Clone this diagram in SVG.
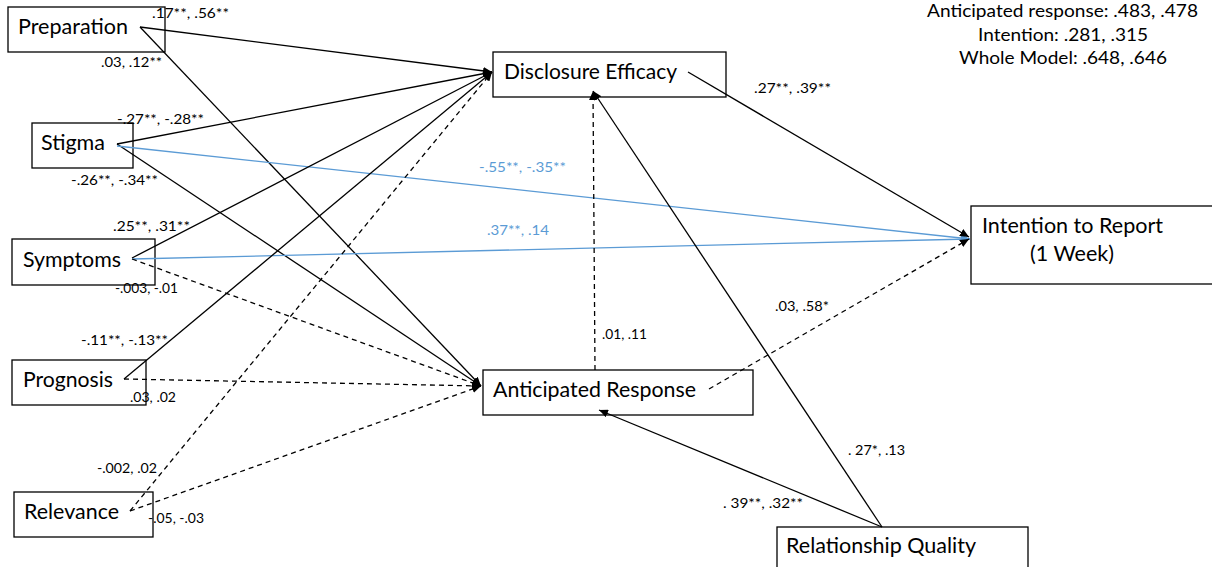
<svg xmlns="http://www.w3.org/2000/svg" width="1212" height="567" viewBox="0 0 1212 567">
<style>
.box{fill:#fff;stroke:#000;stroke-width:1.3}
.nt{font-family:Lato,"Liberation Sans",sans-serif;font-size:21px;fill:#000}
.lb{font-family:Lato,"Liberation Sans",sans-serif;font-size:14px;fill:#000}
.lbb{font-family:Lato,"Liberation Sans",sans-serif;font-size:14px;fill:#5B9BD5}
.st{font-family:Lato,"Liberation Sans",sans-serif;font-size:18px;fill:#000}
.ln{fill:none;stroke:#000;stroke-width:1.3}
.ds{fill:none;stroke:#000;stroke-width:1.3;stroke-dasharray:5 4}
.bl{fill:none;stroke:#5B9BD5;stroke-width:1.3}
</style>
<defs>
<marker id="ah" markerUnits="userSpaceOnUse" markerWidth="10" markerHeight="8" refX="9" refY="4" orient="auto">
<path d="M0,0 L9,4 L0,8 z" fill="#000"/>
</marker>
<marker id="ahb" markerUnits="userSpaceOnUse" markerWidth="10" markerHeight="8" refX="9" refY="4" orient="auto">
<path d="M0,0 L9,4 L0,8 z" fill="#5B9BD5"/>
</marker>
</defs>
<rect width="1212" height="567" fill="#fff"/>

<g id="nodes">
<g id="preparation"><rect class="box" x="8" y="7" width="157" height="45"/><text class="nt" x="18" y="34" textLength="110" lengthAdjust="spacingAndGlyphs">Preparation</text></g>
<g id="stigma"><rect class="box" x="32" y="123" width="101" height="45"/><text class="nt" x="41" y="150" textLength="64" lengthAdjust="spacingAndGlyphs">Stigma</text></g>
<g id="symptoms"><rect class="box" x="12" y="239" width="143" height="46"/><text class="nt" x="23" y="267" textLength="98" lengthAdjust="spacingAndGlyphs">Symptoms</text></g>
<g id="prognosis"><rect class="box" x="12" y="360" width="134" height="45"/><text class="nt" x="23" y="387" textLength="90" lengthAdjust="spacingAndGlyphs">Prognosis</text></g>
<g id="relevance"><rect class="box" x="14" y="492" width="139" height="45"/><text class="nt" x="24" y="519" textLength="95" lengthAdjust="spacingAndGlyphs">Relevance</text></g>
<g id="disclosure-efficacy"><rect class="box" x="493" y="52" width="233" height="45"/><text class="nt" x="504" y="79" textLength="173" lengthAdjust="spacingAndGlyphs">Disclosure Efficacy</text></g>
<g id="anticipated-response"><rect class="box" x="483" y="370" width="270" height="45"/><text class="nt" x="493" y="397" textLength="203" lengthAdjust="spacingAndGlyphs">Anticipated Response</text></g>
<g id="intention"><rect class="box" x="971" y="206" width="250" height="78"/><text class="nt" x="982" y="233" textLength="181" lengthAdjust="spacingAndGlyphs">Intention to Report</text><text class="nt" x="1030" y="261" textLength="84" lengthAdjust="spacingAndGlyphs">(1 Week)</text></g>
<g id="relationship-quality"><rect class="box" x="777" y="527" width="251" height="60"/><text class="nt" x="786" y="553" textLength="190" lengthAdjust="spacingAndGlyphs">Relationship Quality</text></g>
</g>

<g id="connectors">
<line class="ln" x1="140" y1="27" x2="492" y2="72" marker-end="url(#ah)"/>
<line class="ln" x1="140" y1="27" x2="481" y2="386" marker-end="url(#ah)"/>
<line class="ln" x1="117" y1="144" x2="492" y2="72" marker-end="url(#ah)"/>
<line class="ln" x1="117" y1="144" x2="481" y2="386" marker-end="url(#ah)"/>
<line class="bl" x1="117" y1="146" x2="970" y2="239" marker-end="url(#ahb)"/>
<line class="ln" x1="132" y1="258" x2="492" y2="72" marker-end="url(#ah)"/>
<line class="bl" x1="132" y1="259" x2="970" y2="239" marker-end="url(#ahb)"/>
<line class="ds" x1="132" y1="259" x2="481" y2="386" marker-end="url(#ah)"/>
<line class="ln" x1="124" y1="379" x2="492" y2="72" marker-end="url(#ah)"/>
<line class="ds" x1="124" y1="379" x2="481" y2="386" marker-end="url(#ah)"/>
<line class="ds" x1="130" y1="511" x2="492" y2="72" marker-end="url(#ah)"/>
<line class="ds" x1="130" y1="511" x2="481" y2="386" marker-end="url(#ah)"/>
<line class="ln" x1="688" y1="72" x2="969" y2="237" marker-end="url(#ah)"/>
<line class="ds" x1="595" y1="370" x2="593" y2="91" marker-end="url(#ah)"/>
<line class="ds" x1="709" y1="389" x2="969" y2="239" marker-end="url(#ah)"/>
<line class="ln" x1="882" y1="527" x2="593" y2="91" marker-end="url(#ah)"/>
<line class="ln" x1="882" y1="527" x2="599" y2="410" marker-end="url(#ah)"/>
</g>

<g id="labels">
<text class="lb" x="152" y="18" textLength="77" lengthAdjust="spacingAndGlyphs">.17**, .56**</text>
<text class="lb" x="101" y="67" textLength="61" lengthAdjust="spacingAndGlyphs">.03, .12**</text>
<text class="lb" x="117" y="124" textLength="87" lengthAdjust="spacingAndGlyphs">-.27**, -.28**</text>
<text class="lb" x="71" y="185" textLength="87" lengthAdjust="spacingAndGlyphs">-.26**, -.34**</text>
<text class="lb" x="113" y="231" textLength="77" lengthAdjust="spacingAndGlyphs">.25**, .31**</text>
<text class="lbb" x="479" y="172" textLength="87" lengthAdjust="spacingAndGlyphs">-.55**, -.35**</text>
<text class="lbb" x="487" y="235" textLength="62" lengthAdjust="spacingAndGlyphs">.37**, .14</text>
<text class="lb" x="115" y="293" textLength="63" lengthAdjust="spacingAndGlyphs">-.003, -.01</text>
<text class="lb" x="81" y="345" textLength="87" lengthAdjust="spacingAndGlyphs">-.11**, -.13**</text>
<text class="lb" x="130" y="402" textLength="46" lengthAdjust="spacingAndGlyphs">.03, .02</text>
<text class="lb" x="97" y="473" textLength="60" lengthAdjust="spacingAndGlyphs">-.002, .02</text>
<text class="lb" x="148" y="523" textLength="56" lengthAdjust="spacingAndGlyphs">-.05, -.03</text>
<text class="lb" x="754" y="93" textLength="77" lengthAdjust="spacingAndGlyphs">.27**, .39**</text>
<text class="lb" x="602" y="339" textLength="45" lengthAdjust="spacingAndGlyphs">.01, .11</text>
<text class="lb" x="775" y="311" textLength="54" lengthAdjust="spacingAndGlyphs">.03, .58*</text>
<text class="lb" x="848" y="455" textLength="57" lengthAdjust="spacingAndGlyphs">. 27*, .13</text>
<text class="lb" x="723" y="508" textLength="80" lengthAdjust="spacingAndGlyphs">. 39**, .32**</text>
</g>

<g id="stats">
<text class="st" x="927" y="17" textLength="271" lengthAdjust="spacingAndGlyphs">Anticipated response: .483, .478</text>
<text class="st" x="978" y="41" textLength="170" lengthAdjust="spacingAndGlyphs">Intention: .281, .315</text>
<text class="st" x="959" y="64" textLength="208" lengthAdjust="spacingAndGlyphs">Whole Model: .648, .646</text>
</g>
</svg>
